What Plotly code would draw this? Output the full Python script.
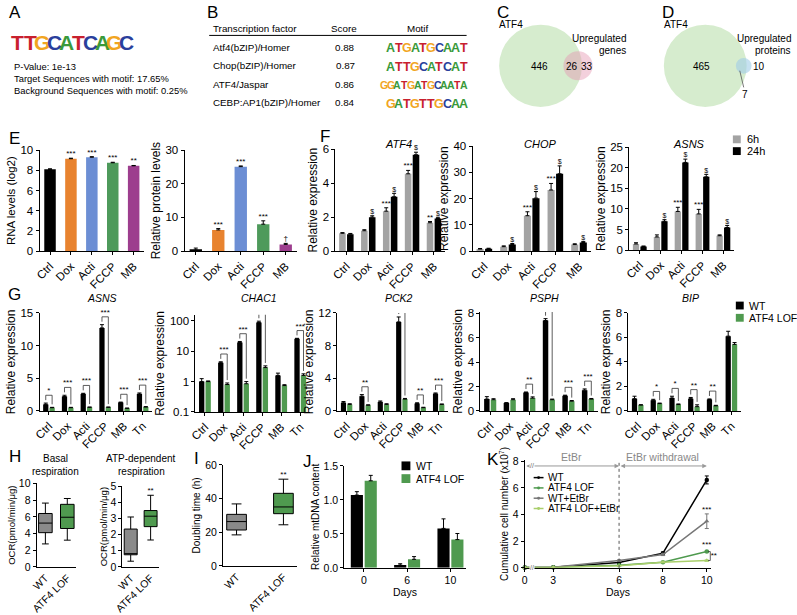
import plotly.graph_objects as go

W, H = 797, 615
FONT = "Liberation Sans, Arial, sans-serif"
GREEN = "#4f9a4f"
LIGHT_GREEN = "#a9cf6b"
GREY = "#a3a3a3"
BOX_GREY = "#8a8a8a"
BASE_COL = {"A": "#3a9a3a", "C": "#2a3f9c", "G": "#f1a51f", "T": "#c8202e"}

# ---------------- data ----------------
# A
logo_a = "TTGCATCAGC"
p_value = "1e-13"
target_pct = "17.65%"
background_pct = "0.25%"

# B
tf_names = ["Atf4(bZIP)/Homer", "Chop(bZIP)/Homer", "ATF4/Jaspar", "CEBP:AP1(bZIP)/Homer"]
tf_scores = [0.88, 0.87, 0.86, 0.84]
tf_motifs = ["ATGATGCAAT", "ATTGCATCAT", "GGATGATGCAATA", "GATGTTGCAA"]

# C, D (venn counts)
c_atf4_only, c_overlap, c_genes_only = 446, 26, 33
d_atf4_only, d_overlap, d_proteins_only = 465, 7, 10

# E
treatments = ["Ctrl", "Dox", "Acti", "FCCP", "MB"]
treat_colors = ["#000000", "#e8832f", "#6c8ed4", "#4e9a5b", "#9d3e8e"]
rna_levels = [8.1, 9.15, 9.3, 8.75, 8.45]
rna_err = [0.05, 0.05, 0.05, 0.05, 0.03]
rna_sig = ["", "***", "***", "***", "**"]
protein_levels = [0.3, 6.3, 25.1, 8.0, 2.0]
protein_err = [0.6, 0.4, 0.2, 1.0, 0.3]
protein_sig = ["", "***", "***", "***", "†"]

# F (6h grey, 24h black)
atf4_6h = [1.05, 1.2, 2.35, 4.55, 1.67]
atf4_6h_err = [0.04, 0.06, 0.2, 0.2, 0.07]
atf4_24h = [1.0, 2.0, 3.2, 5.67, 1.92]
atf4_24h_err = [0.04, 0.08, 0.2, 0.15, 0.07]
atf4_sig_6h = ["", "", "***", "***", "**"]
atf4_sig_24h = ["", "$", "$", "$", "$"]
chop_6h = [0.8, 1.7, 13.5, 23.3, 2.5]
chop_6h_err = [0.2, 0.3, 1.5, 2.5, 0.3]
chop_24h = [0.9, 2.5, 20.2, 29.5, 3.3]
chop_24h_err = [0.2, 0.4, 2.5, 3.0, 0.4]
chop_sig_6h = ["", "", "***", "***", ""]
chop_sig_24h = ["", "$", "$", "$", "$"]
asnsf_6h = [1.5, 3.2, 9.4, 8.8, 3.5]
asnsf_6h_err = [0.3, 0.5, 1.0, 1.1, 0.2]
asnsf_24h = [0.9, 7.0, 21.3, 17.8, 5.5]
asnsf_24h_err = [0.1, 0.4, 0.8, 0.6, 0.5]
asnsf_sig_6h = ["", "", "***", "***", ""]
asnsf_sig_24h = ["", "$", "$", "$", "$"]

# G (WT black, ATF4 LOF green)
stresses = ["Ctrl", "Dox", "Acti", "FCCP", "MB", "Tn"]
asns_wt = [1.0, 2.2, 2.6, 12.7, 1.3, 2.6]
asns_wt_err = [0.2, 0.2, 0.1, 0.5, 0.05, 0.15]
asns_lof = [0.5, 0.5, 0.55, 0.55, 0.4, 0.6]
asns_lof_err = [0.05, 0.05, 0.05, 0.05, 0.04, 0.06]
asns_sig = ["*", "***", "***", "***", "***", "***"]
chac1_wt = [1.0, 4.2, 19.5, 88.0, 1.6, 25.7]
chac1_wt_err = [0.25, 0.3, 1.5, 10.0, 0.3, 1.0]
chac1_lof = [1.0, 0.8, 0.85, 2.9, 0.74, 1.6]
chac1_lof_err = [0.05, 0.1, 0.15, 0.4, 0.05, 0.2]
chac1_sig = ["", "***", "***", "**", "", "***"]
pck2_wt = [1.0, 1.8, 1.1, 10.9, 0.9, 2.1]
pck2_wt_err = [0.15, 0.2, 0.12, 0.6, 0.1, 0.1]
pck2_lof = [0.8, 0.7, 0.8, 1.45, 0.4, 0.8]
pck2_lof_err = [0.08, 0.05, 0.08, 0.08, 0.05, 0.05]
pck2_sig = ["", "**", "", "***", "**", "***"]
psph_wt = [0.97, 0.65, 1.5, 7.4, 1.24, 1.7]
psph_wt_err = [0.2, 0.03, 0.05, 0.15, 0.05, 0.1]
psph_lof = [0.92, 0.92, 1.05, 0.92, 0.8, 0.97]
psph_lof_err = [0.08, 0.08, 0.1, 0.05, 0.05, 0.05]
psph_sig = ["", "", "**", "***", "***", "***"]
bip_wt = [1.0, 0.87, 1.05, 1.0, 0.93, 6.1]
bip_wt_err = [0.2, 0.08, 0.15, 0.1, 0.05, 0.4]
bip_lof = [0.48, 0.6, 0.52, 0.35, 0.42, 5.43]
bip_lof_err = [0.03, 0.04, 0.05, 0.15, 0.04, 0.15]
bip_sig = ["", "*", "*", "**", "**", ""]

# H, I (box stats: WT, ATF4 LOF)
genotypes = ["WT", "ATF4 LOF"]
basal_min = [2.75, 3.2]
basal_q1 = [4.1, 4.6]
basal_med = [5.25, 5.95]
basal_q3 = [6.4, 7.5]
basal_max = [7.65, 8.2]
atp_min = [0.35, 1.67]
atp_q1 = [0.75, 2.5]
atp_med = [0.82, 3.15]
atp_q3 = [2.35, 3.5]
atp_max = [3.1, 4.45]
atp_sig = ["", "**"]
dbl_min = [18.4, 24.4]
dbl_q1 = [21.3, 31.0]
dbl_med = [26.3, 35.0]
dbl_q3 = [30.6, 43.1]
dbl_max = [36.8, 51.5]
dbl_sig = ["", "**"]

# J
mtdna_days = ["0", "6", "10"]
mtdna_wt = [1.07, 0.04, 0.58]
mtdna_wt_err = [0.05, 0.02, 0.14]
mtdna_lof = [1.28, 0.125, 0.415]
mtdna_lof_err = [0.08, 0.04, 0.09]

# K
k_days = [0, 3, 6, 8, 10]
cells_wt = [0.02, 0.05, 0.4, 1.1, 6.6]
cells_wt_err = [0.02, 0.02, 0.05, 0.08, 0.3]
cells_lof = [0.02, 0.04, 0.2, 0.42, 1.22]
cells_lof_err = [0.01, 0.01, 0.03, 0.04, 0.06]
cells_wt_etbr = [0.02, 0.04, 0.55, 1.0, 3.5]
cells_wt_etbr_err = [0.01, 0.01, 0.05, 0.08, 0.55]
cells_lof_etbr = [0.02, 0.03, 0.15, 0.42, 0.55]
cells_lof_etbr_err = [0.01, 0.01, 0.02, 0.03, 0.04]

# ---------------- helpers ----------------
fig = go.Figure()
AXIS = dict(showline=True, linecolor="black", linewidth=1, ticks="outside", ticklen=3,
            tickwidth=1, tickcolor="black", showgrid=False, zeroline=False, fixedrange=True)
n_ax = [0]


def add_axes(box, xaxis, yaxis, fs=11.5):
    n_ax[0] += 1
    s = "" if n_ax[0] == 1 else str(n_ax[0])
    x0, y0, x1, y1 = box
    xa = dict(AXIS, domain=[x0 / W, x1 / W], anchor="y" + s, tickfont=dict(size=fs))
    xa.update(xaxis)
    ya = dict(AXIS, domain=[1 - y1 / H, 1 - y0 / H], anchor="x" + s, tickfont=dict(size=fs))
    ya.update(yaxis)
    fig.update_layout({"xaxis" + s: xa, "yaxis" + s: ya})
    return "x" + s, "y" + s


def ytitle(text, size=12, standoff=2):
    return dict(text=text, font=dict(size=size), standoff=standoff)


def err_up(errs):
    return dict(type="data", array=errs, arrayminus=[0] * len(errs), symmetric=False,
                thickness=1, width=2, color="black")


def label(x, y, text, size=10, xanchor="center", yanchor="middle", color="black", **kw):
    fig.add_annotation(x=x / W, y=1 - y / H, xref="paper", yref="paper", text=text,
                       showarrow=False, xanchor=xanchor, yanchor=yanchor,
                       font=dict(size=size, color=color, family=FONT), **kw)


def stars(ax, xs, ys, texts, size=8):
    fig.add_trace(go.Scatter(x=xs, y=ys, mode="text", text=texts, textposition="top center",
                             textfont=dict(size=size), cliponaxis=False,
                             xaxis=ax[0], yaxis=ax[1]))


def paired_bars(ax, a, a_err, b, b_err, ca, cb, off=0.17, w=0.3):
    xa = [i - off for i in range(len(a))]
    xb = [i + off for i in range(len(b))]
    for xs, v, e, c in ((xa, a, a_err, ca), (xb, b, b_err, cb)):
        fig.add_trace(go.Bar(x=xs, y=v, width=w, marker=dict(color=c, line_width=0),
                             error_y=err_up(e), xaxis=ax[0], yaxis=ax[1]))
    return xa, xb


def brackets(ax, xa, xb, a_top, b_top, sig, span, log=False):
    bx, by, tx, ty, tt = [], [], [], [], []
    for i, s in enumerate(sig):
        if not s:
            continue
        if log:
            ya0 = a_top[i] * 10 ** (0.03 * span)
            yb0 = b_top[i] * 10 ** (0.03 * span)
            h = max(a_top[i], b_top[i]) * 10 ** (0.08 * span)
        else:
            ya0 = a_top[i] + 0.03 * span
            yb0 = b_top[i] + 0.03 * span
            h = max(a_top[i], b_top[i]) + 0.08 * span
        bx += [xa[i], xa[i], xb[i], xb[i], None]
        by += [ya0, h, h, yb0, None]
        tx.append(i)
        ty.append(h)
        tt.append(s)
    fig.add_trace(go.Scatter(x=bx, y=by, mode="lines", line=dict(color="#333", width=0.8),
                             xaxis=ax[0], yaxis=ax[1]))
    stars(ax, tx, ty, tt)


def tops(v, e):
    return [a + b for a, b in zip(v, e)]


def logo(x0, x1, y, seq, size):
    step = (x1 - x0) / len(seq)
    for i, c in enumerate(seq):
        label(x0 + step * (i + 0.5), y, f"<b>{c}</b>", size=size, color=BASE_COL[c])


# ---------------- A ----------------
label(6, 7, "A", size=17)
logo(3, 125, 37, logo_a, 21)
label(3, 62, f"P-Value: {p_value}", size=9.4, xanchor="left")
label(3, 74, f"Target Sequences with motif: {target_pct}", size=9.4, xanchor="left")
label(3, 86, f"Background Sequences with motif: {background_pct}", size=9.4, xanchor="left")

# ---------------- B ----------------
label(206, 7, "B", size=17)
label(205, 23, "Transcription factor", size=9.8, xanchor="left")
label(340, 23, "Score", size=9.8)
label(415, 23, "Motif", size=9.8)
fig.add_shape(type="line", xref="paper", yref="paper", x0=203 / W, x1=464 / W,
              y0=1 - 30 / H, y1=1 - 30 / H, line=dict(color="black", width=1))
for i, (nm, sc, mo) in enumerate(zip(tf_names, tf_scores, tf_motifs)):
    yy = 42 + i * 18.9
    label(205, yy, nm, size=9.8, xanchor="left")
    label(341, yy, f"{sc:.2f}", size=9.8)
    x_start = 383 if len(mo) <= 10 else 377
    logo(x_start, 465, yy + 1, mo, 12.5 if len(mo) <= 10 else 10.5)


# ---------------- C, D (venn) ----------------
def circle(cx, cy, r, fill):
    fig.add_shape(type="circle", xref="paper", yref="paper", x0=(cx - r) / W, x1=(cx + r) / W,
                  y0=1 - (cy + r) / H, y1=1 - (cy - r) / H, fillcolor=fill, line_width=0, layer="below")


R_BIG = 42
c_big = c_atf4_only + c_overlap
c_small = c_genes_only + c_overlap
circle(539, 61, R_BIG, "rgba(200,229,190,0.75)")
circle(577, 61, R_BIG * (c_small / c_big) ** 0.5, "rgba(228,150,178,0.45)")
label(501, 7, "C", size=17)
label(495, 19, "ATF4", xanchor="left")
label(628, 33, "Upregulated", xanchor="right")
label(628, 45, "genes", xanchor="right")
label(538, 62, str(c_atf4_only))
label(571, 62, str(c_overlap))
label(586, 62, str(c_genes_only))

d_big = d_atf4_only + d_overlap
d_small = d_proteins_only + d_overlap
circle(706, 61, R_BIG, "rgba(200,229,190,0.75)")
circle(745, 61, R_BIG * (d_small / d_big) ** 0.5, "rgba(160,205,232,0.6)")
label(668, 7, "D", size=17)
label(662, 19, "ATF4", xanchor="left")
label(795, 33, "Upregulated", xanchor="right")
label(795, 45, "proteins", xanchor="right")
label(702, 62, str(d_atf4_only))
label(760, 62, str(d_proteins_only))
label(746, 90, str(d_overlap))
fig.add_shape(type="line", xref="paper", yref="paper", x0=741 / W, x1=745 / W,
              y0=1 - 66 / H, y1=1 - 83 / H, line=dict(color="#555", width=0.8))

# ---------------- E ----------------
label(6, 135, "E", size=17)
xcat = dict(tickangle=-45, range=[-0.5, 4.5])
ax = add_axes((31, 147, 137, 250), xcat, dict(range=[0, 10], dtick=2, title=ytitle("RNA levels (log2)", 11.5)))
fig.add_trace(go.Bar(x=treatments, y=rna_levels, width=0.55, marker=dict(color=treat_colors, line_width=0),
                     error_y=err_up(rna_err), xaxis=ax[0], yaxis=ax[1]))
stars(ax, treatments, tops(rna_levels, rna_err), rna_sig)

ax = add_axes((178, 147, 292, 250), xcat, dict(range=[0, 30], dtick=10, title=ytitle("Relative protein levels")))
fig.add_trace(go.Bar(x=treatments, y=protein_levels, width=0.55, marker=dict(color=treat_colors, line_width=0),
                     error_y=err_up(protein_err), xaxis=ax[0], yaxis=ax[1]))
stars(ax, treatments, tops(protein_levels, protein_err), protein_sig)

# ---------------- F ----------------
label(320, 133, "F", size=17)
xnum5 = dict(tickangle=-45, range=[-0.5, 4.5], tickvals=list(range(5)), ticktext=treatments)
f_panels = [
    ((331, 146, 442, 250), "ATF4", [0, 6], 2, atf4_6h, atf4_6h_err, atf4_24h, atf4_24h_err, atf4_sig_6h, atf4_sig_24h),
    ((470, 143, 590, 250), "CHOP", [0, 40], 10, chop_6h, chop_6h_err, chop_24h, chop_24h_err, chop_sig_6h, chop_sig_24h),
    ((629, 144, 735, 249), "ASNS", [0, 25], 5, asnsf_6h, asnsf_6h_err, asnsf_24h, asnsf_24h_err, asnsf_sig_6h, asnsf_sig_24h),
]
for box, gene, yr, dt, a, ae, b, be, sa, sb in f_panels:
    ax = add_axes(box, xnum5, dict(range=yr, dtick=dt, title=ytitle("Relative expression")))
    xa, xb = paired_bars(ax, a, ae, b, be, GREY, "black", off=0.18, w=0.3)
    stars(ax, xa, tops(a, ae), sa)
    stars(ax, xb, tops(b, be), sb, size=7)
    label((box[0] + box[2]) / 2 + 8, 141, f"<i>{gene}</i>", size=11)
for yy, col, txt in ((136, GREY, "6h"), (148, "black", "24h")):
    fig.add_shape(type="rect", xref="paper", yref="paper", x0=734 / W, x1=742 / W,
                  y0=1 - (yy + 4) / H, y1=1 - (yy - 4) / H, fillcolor=col, line_width=0)
    label(746, yy, txt, size=11, xanchor="left")

# ---------------- G ----------------
label(6, 294, "G", size=17)
xnum6 = dict(tickangle=-45, range=[-0.5, 5.5], tickvals=list(range(6)), ticktext=stresses)
g_panels = [
    ((31, 313, 145, 413), "ASNS", dict(range=[0, 15], dtick=5), asns_wt, asns_wt_err, asns_lof, asns_lof_err, asns_sig, 15, False),
    ((189, 315, 305, 414), "CHAC1", dict(type="log", range=[-1, 2.2], tickvals=[0.1, 1, 10, 100], ticktext=["0.1", "1", "10", "100"]),
     chac1_wt, chac1_wt_err, chac1_lof, chac1_lof_err, chac1_sig, 3.2, True),
    ((333, 313, 445, 413), "PCK2", dict(range=[0, 12], dtick=4), pck2_wt, pck2_wt_err, pck2_lof, pck2_lof_err, pck2_sig, 12, False),
    ((478, 312, 597, 413), "PSPH", dict(range=[0, 8.1], tickvals=[0, 2, 4, 6, 8]), psph_wt, psph_wt_err, psph_lof, psph_lof_err, psph_sig, 8, False),
    ((628, 313, 742, 413), "BIP", dict(range=[0, 8], dtick=2), bip_wt, bip_wt_err, bip_lof, bip_lof_err, bip_sig, 8, False),
]
for box, gene, yax, a, ae, b, be, sig, span, lg in g_panels:
    yax = dict(yax, title=ytitle("Relative expression"))
    ax = add_axes(box, xnum6, yax)
    xa, xb = paired_bars(ax, a, ae, b, be, "black", GREEN, off=0.17, w=0.28)
    brackets(ax, xa, xb, tops(a, ae), tops(b, be), sig, span, log=lg)
    label((box[0] + box[2]) / 2 + 6, 298, f"<i>{gene}</i>", size=10.5)
for yy, col, txt in ((305.5, "black", "WT"), (318, GREEN, "ATF4 LOF")):
    fig.add_shape(type="rect", xref="paper", yref="paper", x0=737 / W, x1=745 / W,
                  y0=1 - (yy + 4) / H, y1=1 - (yy - 4) / H, fillcolor=col, line_width=0)
    label(748, yy, txt, size=10.5, xanchor="left")

# ---------------- H, I ----------------
label(6, 459, "H", size=17)
label(190, 461, "I", size=17)
xbox = dict(tickangle=-45, ticks="")


def boxes(ax, lo, q1, med, q3, hi, width):
    for i, (g, col) in enumerate(zip(genotypes, [BOX_GREY, GREEN])):
        fig.add_trace(go.Box(x=[g], lowerfence=[lo[i]], q1=[q1[i]], median=[med[i]], q3=[q3[i]],
                             upperfence=[hi[i]], orientation="v", fillcolor=col, width=width,
                             whiskerwidth=0.5, line=dict(color="black", width=1), boxpoints=False,
                             xaxis=ax[0], yaxis=ax[1]))


ax = add_axes((28, 487, 68, 572), xbox, dict(range=[0, 10], dtick=2, title=ytitle("OCR(pmol/min/μg)", 9.5, 1)), fs=10.5)
boxes(ax, basal_min, basal_q1, basal_med, basal_q3, basal_max, 0.62)
label(47, 462, "Basal", size=10)
label(47, 475, "respiration", size=10)

ax = add_axes((115, 490, 152, 572), xbox, dict(range=[0, 5], dtick=1, title=ytitle("OCR(pmol/min/μg)", 9.5, 1)), fs=10.5)
boxes(ax, atp_min, atp_q1, atp_med, atp_q3, atp_max, 0.65)
stars(ax, genotypes, atp_max, atp_sig)
label(134, 462, "ATP-dependent", size=10)
label(134, 475, "respiration", size=10)

ax = add_axes((217, 468, 292, 571), xbox, dict(range=[0, 60], dtick=20, title=ytitle("Doubling time (h)", 10)), fs=10.5)
boxes(ax, dbl_min, dbl_q1, dbl_med, dbl_q3, dbl_max, 0.42)
stars(ax, genotypes, dbl_max, dbl_sig)

# ---------------- J ----------------
label(303, 465, "J", size=17)
ax = add_axes((340, 469, 463, 573),
              dict(range=[-0.45, 2.35], tickvals=[0, 1, 2], ticktext=mtdna_days,
                   title=dict(text="Days", font=dict(size=10.5), standoff=2)),
              dict(range=[0, 1.5], dtick=0.5, tickformat=".1f", title=ytitle("Relative mtDNA content", 10)), fs=10.5)
paired_bars(ax, mtdna_wt, mtdna_wt_err, mtdna_lof, mtdna_lof_err, "black", GREEN, off=0.16, w=0.28)
for yy, col, txt in ((469, "black", "WT"), (482, GREEN, "ATF4 LOF")):
    fig.add_shape(type="rect", xref="paper", yref="paper", x0=398 / W, x1=407 / W,
                  y0=1 - (yy + 4.5) / H, y1=1 - (yy - 4.5) / H, fillcolor=col, line_width=0)
    label(411, yy, txt, size=10.5, xanchor="left")

# ---------------- K ----------------
label(491, 463, "K", size=17)


def k_pos(d):
    # axis break between day 0 and day 3
    return d if d >= 3 else 1.7 + d * (3 - 1.7) / 3


kx = [k_pos(d) for d in k_days]
ax = add_axes((523, 463, 712, 573),
              dict(range=[k_pos(0), 10.2], tickvals=kx, ticktext=[str(d) for d in k_days],
                   title=dict(text="Days", font=dict(size=10.5), standoff=2)),
              dict(range=[0, 8.1], tickvals=[0, 2, 4, 6, 8],
                   title=ytitle("Cumulative cell number (x10<sup>7</sup>)", 10)), fs=10.5)
k_series = [
    ("WT", cells_wt, cells_wt_err, "black", "circle"),
    ("ATF4 LOF", cells_lof, cells_lof_err, GREEN, "circle"),
    ("WT+EtBr", cells_wt_etbr, cells_wt_etbr_err, "#777777", "triangle-up"),
    ("ATF4 LOF+EtBr", cells_lof_etbr, cells_lof_etbr_err, LIGHT_GREEN, "triangle-up"),
]
for nm, v, e, col, sym in k_series:
    fig.add_trace(go.Scatter(x=kx, y=v, mode="lines+markers", line=dict(color=col, width=1.5),
                             marker=dict(symbol=sym, size=4.5, color=col),
                             error_y=dict(type="data", array=e, thickness=1, width=2, color=col),
                             cliponaxis=False, xaxis=ax[0], yaxis=ax[1]))
stars(ax, [kx[-1], kx[-1]], [cells_wt_etbr[-1] + cells_wt_etbr_err[-1], cells_lof[-1] + 0.2], ["***", "***"])
fig.add_trace(go.Scatter(x=[kx[-1] + 0.06, kx[-1] + 0.16, kx[-1] + 0.16, kx[-1] + 0.06],
                         y=[cells_lof[-1], cells_lof[-1], cells_lof_etbr[-1], cells_lof_etbr[-1]],
                         mode="lines", line=dict(color="#333", width=0.8), xaxis=ax[0], yaxis=ax[1]))
fig.add_trace(go.Scatter(x=[kx[-1] + 0.18], y=[(cells_lof[-1] + cells_lof_etbr[-1]) / 2], mode="text",
                         text=["**"], textposition="middle right", textfont=dict(size=8),
                         cliponaxis=False, xaxis=ax[0], yaxis=ax[1]))
fig.add_shape(type="line", xref=ax[0], yref=ax[1], x0=6, x1=6, y0=0, y1=8.1,
              line=dict(color="#555", width=1, dash="dot"))
for x_start, x_end, txt in ((k_pos(0), 6, "EtBr"), (6, 10, "EtBr withdrawal")):
    fig.add_annotation(x=x_end, y=7.65, ax=x_start, ay=7.65, xref=ax[0], yref=ax[1], axref=ax[0], ayref=ax[1],
                       text="", showarrow=True, arrowhead=2, arrowside="end+start", arrowsize=0.9,
                       arrowwidth=1, arrowcolor="#999", standoff=0, startstandoff=0)
    fig.add_annotation(x=(x_start + x_end) / 2, y=7.75, xref=ax[0], yref=ax[1], text=txt, showarrow=False,
                       yanchor="bottom", font=dict(size=10.5, color="#888"))
for yy in (0, 7.65):
    fig.add_annotation(x=(k_pos(0) + 3) / 2 - 0.3, y=yy, xref=ax[0], yref=ax[1], text="//", showarrow=False,
                       font=dict(size=7, color="#666"), bgcolor="white", borderpad=0)
for i, (nm, v, e, col, sym) in enumerate(k_series):
    yy = 481 + i * 10.5
    fig.add_shape(type="line", xref="paper", yref="paper", x0=532 / W, x1=542 / W,
                  y0=1 - yy / H, y1=1 - yy / H, line=dict(color=col, width=1.5))
    fig.add_shape(type="circle", xref="paper", yref="paper", x0=535.5 / W, x1=538.5 / W,
                  y0=1 - (yy + 1.5) / H, y1=1 - (yy - 1.5) / H, fillcolor=col, line_width=0)
    label(545, yy, nm, size=10, xanchor="left")

fig.update_layout(
    width=W, height=H, margin=dict(l=0, r=0, t=0, b=0),
    paper_bgcolor="white", plot_bgcolor="white", showlegend=False,
    barmode="overlay", font=dict(family=FONT, size=10, color="black"),
)
# the page body has a default 8px margin; drop it so the figure fills the window
fig.write_html("out.html", config={"displayModeBar": False},
               post_script="document.body.style.margin='0px';")
